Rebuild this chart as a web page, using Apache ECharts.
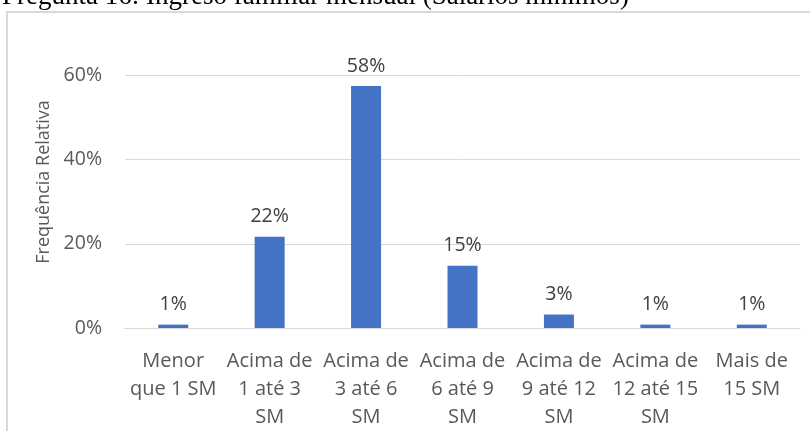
<!DOCTYPE html>
<html>
<head>
<meta charset="utf-8">
<script src="https://cdn.jsdelivr.net/npm/echarts@6/dist/echarts.min.js"></script>
<style>
  html, body { margin: 0; padding: 0; background: #fff; }
  #chart { width: 810px; height: 431px; }
</style>
</head>
<body>
<div id="chart"></div>
<script>
// categories and values (percent)
var categories = [
  'Menor\nque 1 SM',
  'Acima de\n1 até 3\nSM',
  'Acima de\n3 até 6\nSM',
  'Acima de\n6 até 9\nSM',
  'Acima de\n9 até 12\nSM',
  'Acima de\n12 até 15\nSM',
  'Mais de\n15 SM'
];
var frequencia = [0.8, 21.7, 57.5, 14.8, 3.2, 0.8, 0.8];
var yTicks = [0, 20, 40, 60];

var chart = echarts.init(document.getElementById('chart'));
var font = '"Open Sans", "Noto Sans", sans-serif';

chart.setOption({
  animation: false,
  textStyle: { fontFamily: font },
  graphic: [
    {
      type: 'rect',
      shape: { x: 7, y: 12, width: 900, height: 500 },
      style: { fill: 'none', stroke: '#d9d9d9', lineWidth: 2 },
      silent: true
    },
    {
      type: 'text',
      x: 2, y: -3,
      style: {
        text: 'Pregunta 16: Ingreso familiar mensual (Salarios mínimos)',
        font: '27px "Liberation Serif", "DejaVu Serif", serif',
        fill: '#000',
        align: 'left',
        verticalAlign: 'middle'
      }
    },
    {
      type: 'text',
      x: 44, y: 182,
      rotation: Math.PI / 2,
      style: {
        text: 'Frequência Relativa',
        font: '18px ' + font,
        fill: '#595959',
        align: 'center',
        verticalAlign: 'middle'
      }
    }
  ],
  grid: { left: 125, right: 10, top: 75.5, bottom: 102.7 },
  xAxis: {
    type: 'category',
    data: categories,
    axisLine: { lineStyle: { color: '#d9d9d9', width: 1 } },
    axisTick: { show: false },
    axisLabel: {
      interval: 0,
      color: '#595959',
      fontSize: 20,
      lineHeight: 28,
      margin: 19
    }
  },
  yAxis: {
    type: 'value',
    min: yTicks[0],
    max: yTicks[yTicks.length - 1],
    interval: yTicks[1] - yTicks[0],
    axisLine: { show: false },
    axisTick: { show: false },
    splitLine: { lineStyle: { color: '#d9d9d9', width: 1 } },
    axisLabel: {
      color: '#595959',
      fontSize: 19.5,
      margin: 23,
      formatter: '{value}%'
    }
  },
  series: [{
    type: 'bar',
    data: frequencia,
    barWidth: 30,
    itemStyle: { color: '#4472c4' },
    label: {
      show: true,
      position: 'top',
      distance: 10,
      color: '#404040',
      fontSize: 19.5,
      formatter: function (p) { return Math.round(p.value) + '%'; }
    }
  }]
});
</script>
</body>
</html>
